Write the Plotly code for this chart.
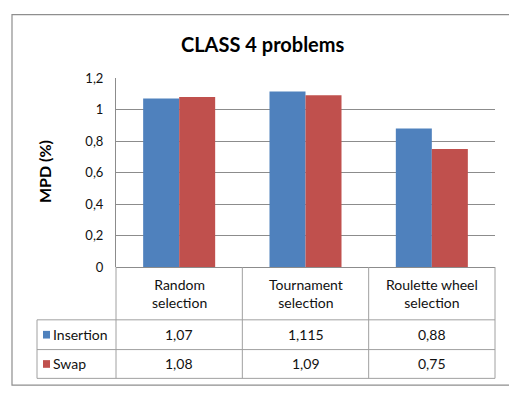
import plotly.graph_objects as go

# Chart data
categories = ["Random<br>selection", "Tournament<br>selection", "Roulette wheel<br>selection"]
series_names = ["Insertion", "Swap"]
insertion = [1.07, 1.115, 0.88]
swap = [1.08, 1.09, 0.75]
value_labels = {
    "Insertion": ["1,07", "1,115", "0,88"],
    "Swap": ["1,08", "1,09", "0,75"],
}
colors = {"Insertion": "#4F81BD", "Swap": "#C0504D"}

W, H = 509, 395
FONT = "Lato"
GRID = "#8c8c8c"
LINE = "#a0a0a0"
TEXT = "#111111"


def fx(px):
    return px / W


def fy(py):
    return 1 - py / H


# pixel geometry of the plot area and data table
PL, PR, PT, PB = 116, 495, 73, 270
TL = 37
ROW_CAT_B = 325
ROW1_B = 356
ROW2_B = 386
col_edges = [PL + (PR - PL) * i / 3 for i in range(4)]

fig = go.Figure()
for name, vals in zip(series_names, [insertion, swap]):
    fig.add_trace(go.Bar(
        x=[0, 1, 2], y=vals, name=name,
        marker=dict(color=colors[name], line=dict(width=0)),
        showlegend=False,
        hoverinfo="skip",
    ))

shapes = []
annotations = []

# outer chart border
shapes.append(dict(type="rect", xref="paper", yref="paper",
                   x0=fx(12), x1=fx(512), y0=fy(393), y1=fy(7),
                   line=dict(color="#8e8e8e", width=1.2)))


# data table grid
def hline(y, x0, x1):
    shapes.append(dict(type="line", xref="paper", yref="paper",
                       x0=fx(x0), x1=fx(x1), y0=fy(y), y1=fy(y),
                       line=dict(color=LINE, width=1)))


def vline(x, y0, y1):
    shapes.append(dict(type="line", xref="paper", yref="paper",
                       x0=fx(x), x1=fx(x), y0=fy(y0), y1=fy(y1),
                       line=dict(color=LINE, width=1)))


for cx in col_edges:
    vline(cx, PB, ROW2_B)
vline(TL, ROW_CAT_B, ROW2_B)
hline(ROW_CAT_B, TL, PR)
hline(ROW1_B, TL, PR)
hline(ROW2_B, TL, PR)

# category labels
for i, cat in enumerate(categories):
    cx = (col_edges[i] + col_edges[i + 1]) / 2
    annotations.append(dict(xref="paper", yref="paper", x=fx(cx), y=fy((PB + ROW_CAT_B) / 2),
                            text=cat, showarrow=False, xanchor="center", yanchor="middle",
                            font=dict(family=FONT, size=14, color=TEXT)))

# value rows with legend keys
rows = [(series_names[0], ROW_CAT_B, ROW1_B), (series_names[1], ROW1_B, ROW2_B)]
for name, y0, y1 in rows:
    ym = (y0 + y1) / 2
    shapes.append(dict(type="rect", xref="paper", yref="paper",
                       x0=fx(43), x1=fx(50), y0=fy(ym + 4), y1=fy(ym - 4),
                       fillcolor=colors[name], line=dict(width=0)))
    annotations.append(dict(xref="paper", yref="paper", x=fx(51), y=fy(ym),
                            text=name, showarrow=False, xanchor="left", yanchor="middle",
                            font=dict(family=FONT, size=14, color=TEXT)))
    for i, lab in enumerate(value_labels[name]):
        cx = (col_edges[i] + col_edges[i + 1]) / 2
        annotations.append(dict(xref="paper", yref="paper", x=fx(cx), y=fy(ym),
                                text=lab, showarrow=False, xanchor="center", yanchor="middle",
                                font=dict(family=FONT, size=14, color=TEXT)))

# title and axis title
annotations.append(dict(xref="paper", yref="paper", x=fx(263), y=fy(37),
                        text="<b>CLASS 4 problems</b>", showarrow=False,
                        xanchor="center", yanchor="middle",
                        font=dict(family=FONT, size=20, color="#000000")))
annotations.append(dict(xref="paper", yref="paper", x=fx(44), y=fy(171),
                        text="<b>MPD (%)</b>", showarrow=False, textangle=-90,
                        xanchor="center", yanchor="middle",
                        font=dict(family=FONT, size=16, color="#000000")))

fig.update_layout(
    width=W, height=H,
    margin=dict(l=0, r=0, t=0, b=0),
    paper_bgcolor="white", plot_bgcolor="white",
    separators=", ",
    barmode="group", bargap=0.43, bargroupgap=0,
    xaxis=dict(domain=[fx(PL), fx(PR)], range=[-0.5, 2.5],
               showticklabels=False, showgrid=False, zeroline=False, showline=False),
    yaxis=dict(domain=[fy(PB), fy(PT)], range=[0, 1.2], dtick=0.2,
               showgrid=True, gridcolor=GRID, gridwidth=1,
               zeroline=True, zerolinecolor=GRID, zerolinewidth=1,
               showline=True, linecolor=GRID, linewidth=1,
               ticks="", ticklabelstandoff=9,
               tickfont=dict(family=FONT, size=13, color=TEXT)),
    shapes=shapes,
    annotations=annotations,
)

fig.write_html("out.html")
